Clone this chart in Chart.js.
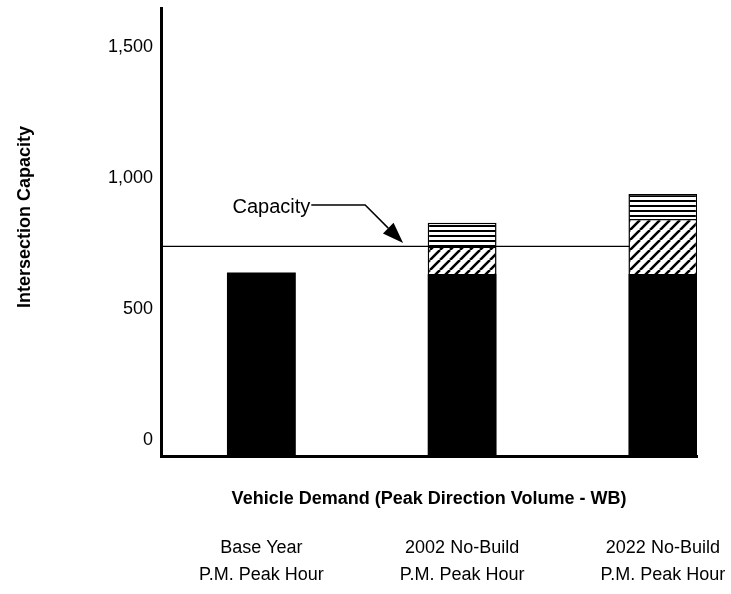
<!DOCTYPE html>
<html>
<head>
<meta charset="utf-8">
<script src="https://cdn.jsdelivr.net/npm/chart.js@4.4.1/dist/chart.umd.min.js"></script>
<style>
    html, body { margin: 0; padding: 0; background: #fff; }
    #wrap { width: 731px; height: 594px; }
</style>
</head>
<body>
<div id="wrap"><canvas id="myChart"></canvas></div>
<script>
const categories = [
    ['Base Year', 'P.M. Peak Hour'],
    ['2002 No-Build', 'P.M. Peak Hour'],
    ['2022 No-Build', 'P.M. Peak Hour']
];
const baseVolume = [700, 695, 695];
const hatchedVolume = [null, 105, 210];
const stripedVolume = [null, 90, 95];
const capacity = 800;
const yTicks = [0, 500, 1000, 1500];

const FONT = "'Liberation Sans', Arial, sans-serif";
const X_MIN = 0.5, X_MAX = 3.17;

// diagonal "///" hatch tile
function hatchPattern() {
    const s = 10;
    const c = document.createElement('canvas');
    c.width = s; c.height = s;
    const g = c.getContext('2d');
    g.fillStyle = '#fff';
    g.fillRect(0, 0, s, s);
    g.strokeStyle = '#000';
    g.lineWidth = 2.6;
    g.beginPath();
    [-s, 0, s].forEach(o => {
        g.moveTo(o, s);
        g.lineTo(o + s, 0);
    });
    g.stroke();
    return g.createPattern(c, 'repeat');
}

// horizontal stripes tile
function stripePattern() {
    const c = document.createElement('canvas');
    c.width = 4; c.height = 5;
    const g = c.getContext('2d');
    g.fillStyle = '#fff';
    g.fillRect(0, 0, 4, 5);
    g.fillStyle = '#000';
    g.fillRect(0, 0, 4, 2);
    return g.createPattern(c, 'repeat');
}

const toPoints = arr => arr.map((v, i) => ({x: i + 1, y: v}));
const categoryTicks = scale => {
    scale.ticks = categories.map((c, i) => ({value: i + 1}));
};

// "Capacity" label with arrow pointing at the capacity line
const capacityNote = {
    id: 'capacityNote',
    afterDatasetsDraw(chart) {
        const xs = chart.scales.x, ys = chart.scales.y, c = chart.ctx;
        const px = v => xs.getPixelForValue(v), py = v => ys.getPixelForValue(v);
        c.save();
        c.font = '20px ' + FONT;
        c.fillStyle = '#000';
        c.textBaseline = 'alphabetic';
        const tx = px(0.856), ty = py(927);
        c.fillText('Capacity', tx, ty);
        const w = c.measureText('Capacity').width;

        const sx = tx + w + 1, sy = py(958);
        const ex = px(1.517);
        const tipX = px(1.706), tipY = py(813);
        const ang = Math.atan2(tipY - sy, tipX - ex);
        const len = 21, half = 7.5;
        const bx = tipX - len * Math.cos(ang), by = tipY - len * Math.sin(ang);

        c.strokeStyle = '#000';
        c.lineWidth = 1.5;
        c.beginPath();
        c.moveTo(sx, sy);
        c.lineTo(ex, sy);
        c.lineTo(bx, by);
        c.stroke();

        c.beginPath();
        c.moveTo(tipX, tipY);
        c.lineTo(bx + half * Math.sin(ang), by - half * Math.cos(ang));
        c.lineTo(bx - half * Math.sin(ang), by + half * Math.cos(ang));
        c.closePath();
        c.fill();
        c.restore();
    }
};

const ctx = document.getElementById('myChart');
new Chart(ctx, {
    type: 'bar',
    data: {
        datasets: [{
            label: 'Demand served',
            data: toPoints(baseVolume),
            backgroundColor: '#000',
            borderWidth: 0
        }, {
            label: 'Over capacity',
            data: toPoints(hatchedVolume),
            backgroundColor: hatchPattern(),
            borderColor: '#000',
            borderWidth: 1.5
        }, {
            label: 'Additional demand',
            data: toPoints(stripedVolume),
            backgroundColor: stripePattern(),
            borderColor: '#000',
            borderWidth: 1.5
        }, {
            type: 'line',
            label: 'Capacity',
            data: [{x: X_MIN, y: capacity}, {x: X_MAX, y: capacity}],
            borderColor: '#000',
            borderWidth: 1.4,
            pointRadius: 0,
            stack: 'capacity',
            order: 1
        }]
    },
    options: {
        responsive: true,
        maintainAspectRatio: false,
        animation: false,
        layout: {
            padding: {left: 0, top: 8, right: 34, bottom: 0}
        },
        datasets: {
            bar: {
                categoryPercentage: 1,
                barPercentage: 0.343
            }
        },
        plugins: {
            legend: { display: false },
            tooltip: { enabled: false }
        },
        scales: {
            x: {
                type: 'linear',
                min: X_MIN,
                max: X_MAX,
                offset: false,
                stacked: true,
                weight: 0,
                afterBuildTicks: categoryTicks,
                afterFit: s => { s.height = 59; s.paddingLeft = 0; s.paddingRight = 0; },
                grid: { display: false, drawTicks: false },
                border: { display: true, color: '#000', width: 3 },
                ticks: { display: false },
                title: {
                    display: true,
                    text: 'Vehicle Demand (Peak Direction Volume - WB)',
                    color: '#000',
                    font: { family: FONT, size: 18, weight: 'bold' },
                    padding: { top: 0, bottom: 5 }
                }
            },
            x2: {
                type: 'linear',
                position: 'bottom',
                min: X_MIN,
                max: X_MAX,
                offset: false,
                weight: 1,
                afterBuildTicks: categoryTicks,
                afterFit: s => { s.height = 79; s.paddingLeft = 0; s.paddingRight = 0; },
                grid: { display: false, drawTicks: false },
                border: { display: false },
                ticks: {
                    color: '#000',
                    padding: 20,
                    maxRotation: 0,
                    autoSkip: false,
                    font: { family: FONT, size: 18, lineHeight: 1.5 },
                    callback: (v, i) => categories[i]
                }
            },
            y: {
                stacked: true,
                min: 0,
                max: 1710,
                afterBuildTicks: s => { s.ticks = yTicks.map(v => ({value: v})); },
                afterFit: s => { s.width = 161; s.paddingTop = 0; s.paddingBottom = 0; },
                grid: { display: false, drawTicks: false },
                border: { display: true, color: '#000', width: 3 },
                ticks: {
                    color: '#000',
                    padding: 8,
                    labelOffset: -16,
                    font: { family: FONT, size: 18 },
                    callback: v => v.toLocaleString('en-US')
                },
                title: {
                    display: true,
                    // leading spaces nudge the rotated title up a bit, like the original
                    text: '      Intersection Capacity',
                    color: '#000',
                    font: { family: FONT, size: 18, weight: 'bold' },
                    padding: { top: 14, bottom: 0 }
                }
            }
        }
    },
    plugins: [capacityNote]
});
</script>
</body>
</html>
